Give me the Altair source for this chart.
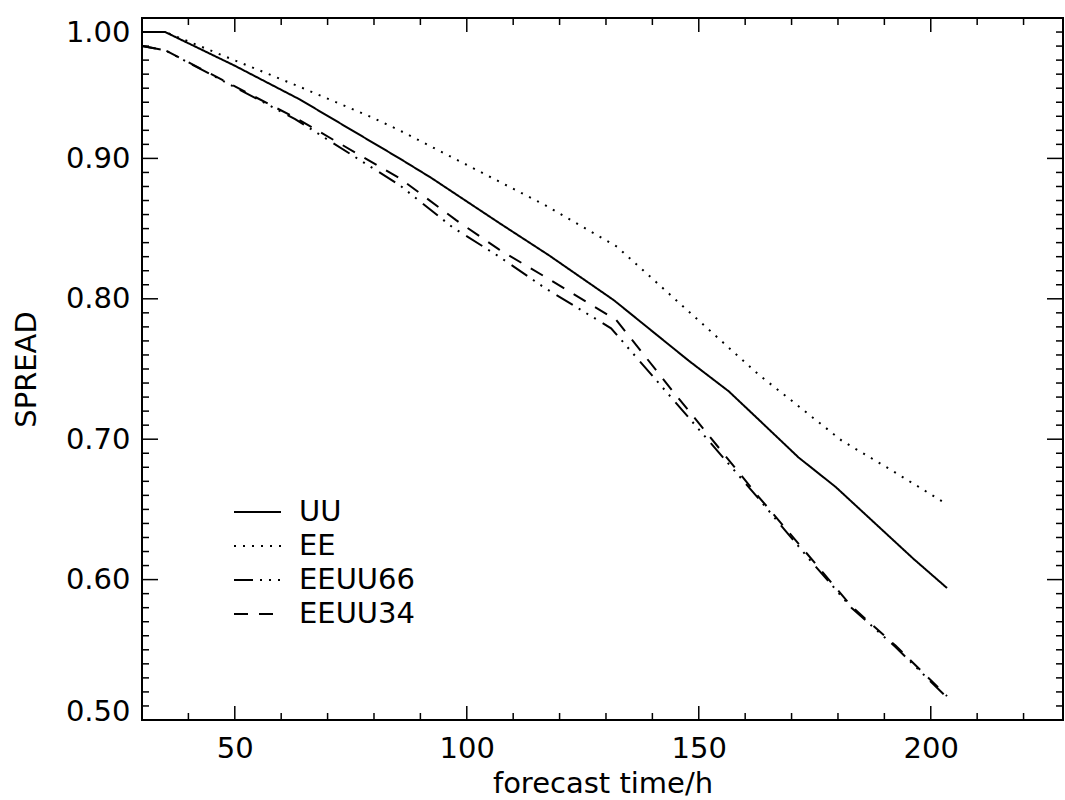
import altair as alt
import pandas as pd

# ---- data ----
series_names = ["UU", "EE", "EEUU66", "EEUU34"]

uu_t = [30, 35, 50, 64, 85.5, 92.4, 107, 117.7, 131.7, 147.8, 156.5, 162.9, 171.5, 179.5, 196.2, 203.5]
uu_v = [0.990, 0.990, 0.966, 0.942, 0.900, 0.886, 0.854, 0.831, 0.799, 0.756, 0.734, 0.714, 0.687, 0.666, 0.615, 0.594]

ee_t = [30, 35, 64, 79.7, 85.5, 116.7, 132.4, 162.9, 169.8, 180.8, 191.5, 203.3]
ee_v = [0.990, 0.990, 0.951, 0.929, 0.920, 0.867, 0.837, 0.746, 0.728, 0.699, 0.678, 0.654]

e66_t = [30, 35, 63, 85.5, 96.9, 107, 116.7, 131.1, 146.1, 162.3, 173.7, 182.9, 192.4, 203.5]
e66_v = [0.980, 0.977, 0.928, 0.881, 0.851, 0.830, 0.808, 0.779, 0.722, 0.660, 0.615, 0.580, 0.552, 0.516]

e34_t = [30, 35, 63, 85.5, 97.7, 107, 116.7, 132.2, 144.2, 162.9, 173.7, 182.9, 192.4, 203.5]
e34_v = [0.980, 0.977, 0.929, 0.886, 0.856, 0.835, 0.816, 0.785, 0.735, 0.659, 0.617, 0.581, 0.553, 0.517]

x_major = [50, 100, 150, 200]
x_minor = [40, 60, 70, 80, 90, 110, 120, 130, 140, 160, 170, 180, 190, 210, 220]
y_major = [0.5, 0.6, 0.7, 0.8, 0.9, 1.0]
y_minor = [round(0.5 + i * 0.01, 2) for i in range(1, 50) if i % 10]

# ---- build tables ----
rows = []
for name, ts, vs in [("UU", uu_t, uu_v), ("EE", ee_t, ee_v),
                     ("EEUU66", e66_t, e66_v), ("EEUU34", e34_t, e34_v)]:
    for t, v in zip(ts, vs):
        rows.append({"series": name, "t": t, "v": v})
df = pd.DataFrame(rows)

W, H = 921, 702
FONT = "DejaVu Sans"

xscale = alt.Scale(domain=[30, 228.5], nice=False, zero=False)
yscale = alt.Scale(domain=[0.5, 1.0], nice=False, zero=False)

xaxis = alt.Axis(values=x_major, format="d", title="forecast time/h",
                 labelFont=FONT, labelFontSize=29, labelColor="black",
                 labelPadding=14, ticks=False, tickSize=0, domain=False, grid=False,
                 titleFont=FONT, titleFontSize=29, titleFontWeight="normal",
                 titleColor="black", titleY=72, titleBaseline="alphabetic")
yaxis = alt.Axis(values=y_major, format=".2f", title="SPREAD",
                 labelFont=FONT, labelFontSize=29, labelColor="black",
                 labelPadding=12,
                 labelBaseline={"condition": [
                     {"test": "datum.value >= 0.999", "value": "top"},
                     {"test": "datum.value <= 0.501", "value": "alphabetic"}],
                     "value": "middle"},
                 ticks=False, tickSize=0,
                 domain=False, grid=False,
                 titleFont=FONT, titleFontSize=29, titleFontWeight="normal",
                 titleColor="black", titleX=-107, titleBaseline="alphabetic")

dash_range = [[1, 0], [2, 7], [19, 7, 2, 7, 2, 7, 2, 8], [14, 11]]

lines = alt.Chart(df).mark_line(color="black", strokeWidth=2).encode(
    x=alt.X("t:Q", scale=xscale, axis=xaxis),
    y=alt.Y("v:Q", scale=yscale, axis=yaxis),
    strokeDash=alt.StrokeDash(
        "series:N",
        scale=alt.Scale(domain=series_names, range=dash_range),
        sort=series_names,
        legend=alt.Legend(orient="none", legendX=91, legendY=477, title=None,
                          symbolType="stroke", symbolSize=2209,
                          symbolStrokeWidth=2, symbolStrokeColor="black",
                          labelFont=FONT, labelFontSize=29, labelColor="black",
                          labelOffset=17, rowPadding=0, clipHeight=34, padding=0),
    ),
    detail="series:N",
)

xmaj = pd.DataFrame({"t": x_major})
xmin = pd.DataFrame({"t": x_minor})
ymaj = pd.DataFrame({"v": y_major[1:-1]})
ymin = pd.DataFrame({"v": y_minor})

def xticks(data, length):
    bottom = alt.Chart(data).mark_rule(color="black", strokeWidth=1.5).encode(
        x=alt.X("t:Q", scale=xscale, axis=xaxis),
        y=alt.value(H), y2=alt.value(H - length))
    top = alt.Chart(data).mark_rule(color="black", strokeWidth=1.5).encode(
        x=alt.X("t:Q", scale=xscale, axis=xaxis),
        y=alt.value(0), y2=alt.value(length))
    return [bottom, top]

def yticks(data, length):
    left = alt.Chart(data).mark_rule(color="black", strokeWidth=1.5).encode(
        y=alt.Y("v:Q", scale=yscale, axis=yaxis),
        x=alt.value(0), x2=alt.value(length))
    right = alt.Chart(data).mark_rule(color="black", strokeWidth=1.5).encode(
        y=alt.Y("v:Q", scale=yscale, axis=yaxis),
        x=alt.value(W), x2=alt.value(W - length))
    return [left, right]

layers = [lines] + xticks(xmaj, 14) + xticks(xmin, 7) + yticks(ymaj, 16) + yticks(ymin, 7)

chart = alt.layer(*layers).properties(
    width=W, height=H,
    autosize=alt.AutoSizeParams(type="none"),
    padding={"left": 142, "top": 18, "right": 2, "bottom": 80},
    background="white",
).configure_view(stroke="black", strokeWidth=2)

chart.save("out.html", embed_options={"renderer": "svg", "actions": False})
